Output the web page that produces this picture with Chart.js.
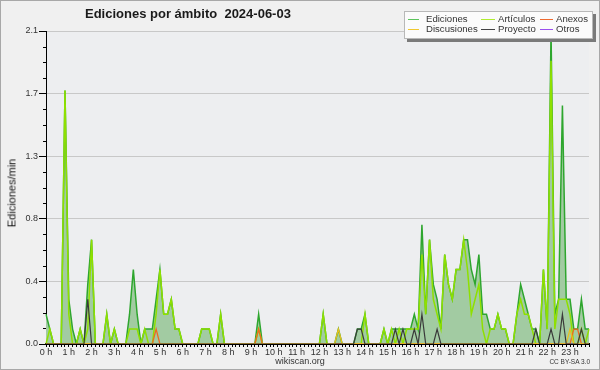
<!DOCTYPE html>
<html><head><meta charset="utf-8">
<script src="https://cdn.jsdelivr.net/npm/chart.js@4/dist/chart.umd.min.js"></script>
<style>
html,body{margin:0;padding:0;background:#f0f0f0;}
#wrap{position:relative;width:600px;height:370px;overflow:hidden;font-family:"Liberation Sans",Arial,sans-serif;}
#c{position:absolute;left:0;top:0;}
#frame{position:absolute;left:0;top:0;width:600px;height:370px;box-sizing:border-box;border:1px solid #a8a8a8;pointer-events:none;}
#title{position:absolute;left:85px;top:7px;font-weight:bold;font-size:13px;line-height:13px;color:#1a1a1a;white-space:pre;}
#ytitle{position:absolute;left:12px;top:193px;transform:translate(-50%,-50%) rotate(-90deg);font-size:11px;line-height:11px;color:#111;white-space:nowrap;}
#legend{position:absolute;left:404px;top:11px;width:187px;height:26px;background:#fbfbfb;border:1px solid #b8b8b8;box-shadow:3px 3px 0 #7a7a7a;}
.li{position:absolute;font-size:9.6px;line-height:10px;color:#333;white-space:nowrap;}
.mk{position:absolute;height:1px;}
#foot{position:absolute;left:0;width:600px;top:357px;text-align:center;font-size:9px;line-height:9px;color:#333;}
#cc{position:absolute;right:10px;top:359px;font-size:6.5px;line-height:6.5px;color:#333;}
</style></head>
<body>
<div id="wrap">
<canvas id="c" width="600" height="370"></canvas>
<div id="title">Ediciones por ámbito  2024-06-03</div>
<div id="ytitle">Ediciones/min</div>
<div id="legend"></div>
<div id="foot">wikiscan.org</div>
<div id="cc">CC BY-SA 3.0</div>
<div id="frame"></div>
</div>
<script>
// 10-minute bins, values in edits/min
const hourLabels = ['0 h','1 h','2 h','3 h','4 h','5 h','6 h','7 h','8 h','9 h','10 h','11 h','12 h','13 h','14 h','15 h','16 h','17 h','18 h','19 h','20 h','21 h','22 h','23 h'];
const yTickValues = [0, 0.42, 0.84, 1.26, 1.68, 2.1];
const yTickLabels = ['0.0','0.4','0.8','1.3','1.7','2.1'];
const seriesNames = ['Ediciones','Artículos','Anexos','Discusiones','Proyecto','Otros'];

const ediciones = [
0.2,0.1,0,0,0,1.7,0.3,0.1,0,0.1,0,0.4,
0.7,0,0,0,0.2,0,0.1,0,0,0,0.2,0.5,
0.2,0,0.1,0.1,0.1,0.3,0.5,0.2,0.2,0.3,0.1,0.1,
0,0,0,0,0,0.1,0.1,0.1,0,0,0.2,0,
0,0,0,0,0,0,0,0,0.2,0,0,0,
0,0,0,0,0,0,0,0,0,0,0,0,
0,0.2,0,0,0,0.1,0,0,0,0,0.1,0.1,
0.2,0,0,0,0,0.1,0,0.1,0.1,0.1,0.1,0.1,
0.1,0.2,0.1,0.8,0.2,0.7,0.4,0.3,0.1,0.6,0.4,0.3,
0.5,0.5,0.7,0.7,0.5,0.4,0.6,0.2,0.2,0.1,0.1,0.2,
0.1,0.1,0,0,0.2,0.4,0.3,0.2,0.1,0.1,0,0.5,
0.1,2.1,0.2,0.3,1.6,0.3,0.3,0.1,0.1,0.3,0.1,0.1];
const articulos = [
0,0.1,0,0,0,1.7,0.2,0,0,0.1,0,0.1,
0.7,0,0,0,0.2,0,0.1,0,0,0,0.1,0.1,
0.1,0,0.1,0,0,0.2,0.5,0.2,0.2,0.3,0.1,0.1,
0,0,0,0,0,0.1,0.1,0.1,0,0,0.2,0,
0,0,0,0,0,0,0,0,0.1,0,0,0,
0,0,0,0,0,0,0,0,0,0,0,0,
0,0.2,0,0,0,0,0,0,0,0,0,0,
0.2,0,0,0,0,0.1,0,0.1,0,0.1,0,0.1,
0.1,0.1,0.1,0.6,0.2,0.7,0.3,0.2,0.1,0.6,0.4,0.3,
0.5,0.5,0.7,0.5,0.2,0.3,0.4,0.1,0,0.1,0.1,0.2,
0.1,0.1,0,0,0.2,0.3,0.2,0.2,0.1,0,0,0.5,
0.1,1.9,0.1,0.3,0.3,0.3,0.2,0,0,0.1,0,0.1];
const anexos = [
0,0,0,0,0,0,0,0,0,0,0,0,
0,0,0,0,0,0,0,0,0,0,0,0,
0,0,0,0,0,0.1,0,0,0,0,0,0,
0,0,0,0,0,0,0,0,0,0,0,0,
0,0,0,0,0,0,0,0,0.1,0,0,0,
0,0,0,0,0,0,0,0,0,0,0,0,
0,0,0,0,0,0,0,0,0,0,0,0,
0,0,0,0,0,0,0,0,0,0,0,0,
0,0,0,0,0,0,0,0,0,0,0,0,
0,0,0,0,0,0,0,0,0,0,0,0,
0,0,0,0,0,0,0,0,0,0,0,0,
0,0,0,0,0,0,0,0.1,0.1,0,0,0];
const discusiones = [
0,0,0,0,0,0,0,0,0,0,0,0,
0,0,0,0,0,0,0,0,0,0,0,0,
0,0,0,0,0,0,0,0,0,0,0,0,
0,0,0,0,0,0,0,0,0,0,0,0,
0,0,0,0,0,0,0,0,0,0,0,0,
0,0,0,0,0,0,0,0,0,0,0,0,
0,0,0,0,0,0.1,0,0,0,0,0,0,
0,0,0,0,0,0,0,0,0,0,0,0,
0,0,0,0,0,0,0,0,0,0,0,0,
0,0,0,0,0,0,0,0,0,0,0,0,
0,0,0,0,0,0,0,0,0,0,0,0,
0,0,0,0,0,0,0.1,0,0,0,0,0];
const proyecto = [
0,0,0,0,0,0,0,0,0,0,0,0.3,
0,0,0,0,0,0,0,0,0,0,0,0,
0,0,0,0,0,0,0,0,0,0,0,0,
0,0,0,0,0,0,0,0,0,0,0,0,
0,0,0,0,0,0,0,0,0,0,0,0,
0,0,0,0,0,0,0,0,0,0,0,0,
0,0,0,0,0,0,0,0,0,0,0.1,0.1,
0,0,0,0,0,0,0,0,0.1,0,0.1,0,
0,0.1,0,0.2,0,0,0,0.1,0,0,0,0,
0,0,0,0,0,0,0,0,0,0,0,0,
0,0,0,0,0,0,0,0,0,0.1,0,0,
0,0.1,0,0,0.2,0,0,0,0,0.1,0,0];
const otros = [
0,0,0,0,0,0,0,0,0,0,0,0,
0,0,0,0,0,0,0,0,0,0,0,0,
0,0,0,0,0,0,0,0,0,0,0,0,
0,0,0,0,0,0,0,0,0,0,0,0,
0,0,0,0,0,0,0,0,0,0,0,0,
0,0,0,0,0,0,0,0,0,0,0,0,
0,0,0,0,0,0,0,0,0,0,0,0,
0,0,0,0,0,0,0,0,0,0,0,0,
0,0,0,0,0,0,0,0,0,0,0,0,
0,0,0,0,0,0,0,0,0,0,0,0,
0,0,0,0,0,0,0,0,0,0,0,0,
0,0,0,0,0,0,0,0,0,0,0,0];

const timeLabels = [];
hourLabels.forEach(h => { for (let m = 0; m < 60; m += 10) timeLabels.push(h.replace(' h','') + ':' + String(m).padStart(2,'0')); });

const lineColors = ['#2ea62e','#8fe000','#ee6a22','#e8c020','#3a3a3a','#9955ee'];
const legendColors = ['#5cc45c','#b0ec30','#ee6a30','#f0c830','#444444','#9a50ee'];

// legend (HTML)
const legendPos = [[21,2],[93,2],[151,2],[21,12],[93,12],[151,12]];
const markerPos = [[3,11],[76,14],[135,13],[3,11],[76,14],[135,13]];
const lg = document.getElementById('legend');
seriesNames.forEach((n,i) => {
  const d = document.createElement('div'); d.className='li';
  d.style.left = legendPos[i][0]+'px'; d.style.top = legendPos[i][1]+'px'; d.textContent = n;
  const m = document.createElement('div'); m.className='mk';
  m.style.left = markerPos[i][0]+'px'; m.style.width = markerPos[i][1]+'px'; m.style.top=(legendPos[i][1]+5)+'px';
  m.style.background = legendColors[i];
  lg.appendChild(m); lg.appendChild(d);
});

const plotBg = {
  id:'plotBg',
  beforeDraw(chart){
    const {ctx, chartArea:a} = chart;
    ctx.save(); ctx.fillStyle = '#edeef0'; ctx.fillRect(a.left, a.top, a.right-a.left, a.bottom-a.top); ctx.restore();
  },
  afterDraw(chart){
    const y = chart.scales.y, ctx = chart.ctx;
    ctx.save(); ctx.strokeStyle = '#000'; ctx.lineWidth = 1;
    for (let k = 0; k < yTickValues.length-1; k++) {
      for (let j = 1; j < 4; j++) {
        const v = yTickValues[k] + (yTickValues[k+1]-yTickValues[k])*j/4;
        const py = Math.round(y.getPixelForValue(v)) + 0.5;
        ctx.beginPath(); ctx.moveTo(y.right-3, py); ctx.lineTo(y.right, py); ctx.stroke();
      }
    }
    ctx.restore();
  }
};

const series = [ediciones, articulos, anexos, discusiones, proyecto, otros];
const orders = [10, 5, 3, 2, 1, 4];
const widths = [1.5, 1.5, 1.3, 1.3, 1.2, 1.2];
const datasets = series.map((d,i) => ({
  label: seriesNames[i], data: d, borderColor: lineColors[i], borderWidth: widths[i],
  backgroundColor: i===0 ? '#a2cba2' : 'transparent', fill: i===0 ? 'origin' : false,
  pointRadius: 0, tension: 0, order: orders[i]
}));

new Chart(document.getElementById('c'), {
  type: 'line',
  data: { labels: timeLabels, datasets },
  options: {
    responsive: false, animation: false, devicePixelRatio: 1,
    layout: { padding: { top: 31, right: 11, left: 0, bottom: 0 } },
    plugins: { legend: { display: false }, tooltip: { enabled: false }, title: { display: false } },
    scales: {
      x: {
        type: 'category', offset: false, z: 1,
        ticks: { autoSkip: false, maxRotation: 0, minRotation: 0, padding: 0,
          callback: (v, i) => (i % 6 === 0 ? hourLabels[i/6] : ''),
          font: { family: 'Liberation Sans', size: 9 }, color: '#333' },
        grid: { drawOnChartArea: false, drawTicks: true, tickLength: 3, tickColor: '#000', tickWidth: 1 },
        border: { color: '#000', width: 2 },
        afterFit: s => { s.height = 26; }
      },
      y: {
        min: 0, max: 2.1,
        afterBuildTicks: s => { s.ticks = yTickValues.map(v => ({ value: v })); },
        ticks: { callback: (v, i) => yTickLabels[i], padding: 1,
          font: { family: 'Liberation Sans', size: 9 }, color: '#333' },
        grid: { color: c => (c.index === 0 ? 'rgba(0,0,0,0)' : '#c8c8c8'), tickColor: '#000', tickLength: 7, lineWidth: 1 },
        border: { color: '#000', width: 1 },
        title: { display: false },
        afterFit: s => { s.width = 46; }
      }
    }
  },
  plugins: [plotBg]
});
</script>
</body></html>
